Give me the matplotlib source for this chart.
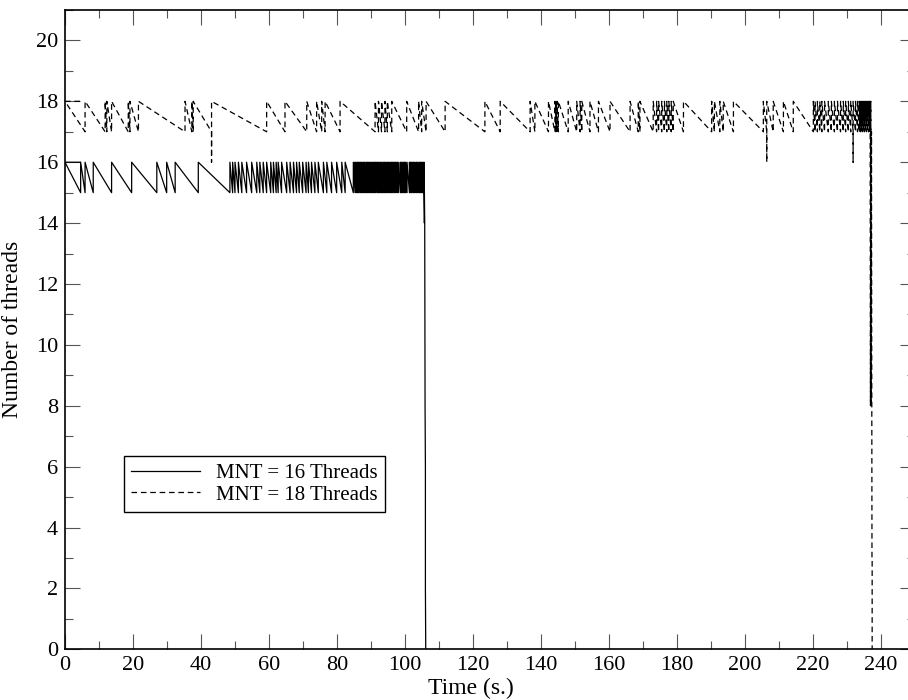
import matplotlib
matplotlib.use("Agg")
import matplotlib.pyplot as plt
from matplotlib.ticker import MultipleLocator

plt.rcParams["font.family"] = ["Liberation Serif", "DejaVu Serif"]

# time (s) of every reset of the thread count back to its maximum
teeth16 = [0.0, 4.6, 5.9, 8.3, 13.7, 19.6, 27.0, 29.9, 32.4, 39.2,
           48.5, 49.3, 50.0, 51.0, 52.0, 53.4, 54.9, 56.4, 57.3, 58.3,
           59.3, 60.5, 61.3, 62.1, 62.7, 63.7, 65.2, 66.2, 67.2, 68.1,
           68.9, 69.9, 70.9, 71.6, 72.5, 73.5, 74.5, 76.0, 77.0, 78.4,
           79.9, 81.4, 82.4, 84.8,
           85.3, 85.6, 86.0, 86.3, 86.7, 87.0, 87.3, 87.7, 88.0, 88.3,
           88.7, 89.0, 89.3, 89.7, 90.0, 90.3, 90.7, 91.0, 91.3, 91.7,
           92.0, 92.3, 92.7, 93.0, 93.3, 93.7, 94.0, 94.3, 94.7, 95.0,
           95.3, 95.7, 96.0, 96.3, 96.7, 97.0, 97.3, 97.7, 98.0, 98.6,
           98.9, 99.2, 99.6, 99.9, 100.2, 100.6, 101.3, 101.6, 101.9,
           102.3, 102.6, 102.9, 103.3, 103.6, 103.9, 104.3, 104.6, 104.9,
           105.3, 105.6]
head16_t = [4.4]
head16_n = [16]
tail16_t = [105.7, 105.7, 105.8, 105.9, 106.0, 106.0, 106.1]
tail16_n = [14, 15, 14, 8, 6, 2, 0]

teeth18 = [0.0, 5.9, 11.8, 12.3, 13.7, 18.6, 19.1, 21.6, 35.3, 37.3,
           37.7, 43.1, 59.3, 64.7, 71.1, 74.0, 75.5, 76.5, 80.9, 91.2,
           92.2, 93.1, 94.1, 94.8, 96.1, 100.5, 104.0, 104.9, 106.2,
           111.8, 123.5, 128.0, 136.8, 138.2, 142.2, 144.1, 144.4, 144.7,
           145.1, 148.0, 150.5, 151.5, 152.0, 154.4, 156.9, 160.3, 166.2,
           168.6, 169.1, 173.0, 174.0, 174.6, 175.5, 176.3, 177.0, 177.6,
           178.3, 178.9, 181.9, 190.2, 191.0, 192.6, 193.6, 196.6, 205.4,
           206.4, 208.3, 211.3, 214.2, 220.1, 220.6, 221.3, 222.0, 222.6,
           223.4, 224.5, 225.4, 226.3, 227.2, 228.1, 228.9, 229.6, 230.4,
           231.1, 231.8, 232.5, 233.1, 233.6, 233.9, 234.2, 234.5, 234.8,
           235.1, 235.4, 235.7, 236.0, 236.3, 236.6, 236.8]
dips18 = [43.1, 206.4, 231.8]
head18_t = [4.4]
head18_n = [18]
tail18_t = [236.9, 237.0, 237.1, 237.2, 237.3, 237.35, 237.3, 237.35,
            237.3, 237.35, 237.3, 237.35, 237.4, 237.4]
tail18_n = [8, 18, 8, 17, 8, 3, 8, 3, 8, 3, 8, 3, 3, 0]


def build(teeth, top, bottom, dips, head_t, head_n, tail_t, tail_n):
    t = list(head_t)
    n = list(head_n)
    for i, ti in enumerate(teeth):
        if i > 0:
            t.append(ti)
            n.append(bottom)
        if ti in dips:
            t.append(ti)
            n.append(top - 2)
        t.append(ti)
        n.append(top)
    return t + tail_t, n + tail_n


t16, n16 = build(teeth16, 16, 15, [], head16_t, head16_n, tail16_t, tail16_n)
t18, n18 = build(teeth18, 18, 17, dips18, head18_t, head18_n, tail18_t, tail18_n)

fig = plt.figure(figsize=(9.08, 7.0), dpi=100)
ax = fig.add_axes([0.0716, 0.0724, 0.9361, 0.9133])

ax.plot(t16, n16, color="black", lw=0.9, label="MNT = 16 Threads")
ax.plot(t18, n18, color="black", lw=0.9, dashes=(4.5, 3),
        label="MNT = 18 Threads")

ax.set_xlim(0, 250)
ax.set_ylim(0, 21)
ax.set_xticks(range(0, 241, 20))
ax.set_yticks(range(0, 21, 2))
ax.xaxis.set_minor_locator(MultipleLocator(10))
ax.yaxis.set_minor_locator(MultipleLocator(1))
ax.tick_params(which="both", direction="in", top=True, right=True,
               labelsize=16, width=0.8, color="#555555")
ax.tick_params(which="major", length=11, pad=5)
ax.tick_params(which="minor", length=5.5)
for s in ax.spines.values():
    s.set_linewidth(1.2)

ax.set_xlabel("Time (s.)", fontsize=17)
ax.set_ylabel("Number of threads", fontsize=17)
ax.xaxis.set_label_coords(0.478, -0.045)
ax.yaxis.set_label_coords(-0.05, 0.5)

leg = ax.legend(loc="lower left", bbox_to_anchor=(0.0689, 0.2147),
                borderaxespad=0, fontsize=15, fancybox=False, framealpha=1,
                edgecolor="black", handlelength=3.3, handletextpad=0.8,
                labelspacing=0.1, borderpad=0.35)
leg.get_frame().set_linewidth(1.0)

fig.savefig("out.png", dpi=100)
